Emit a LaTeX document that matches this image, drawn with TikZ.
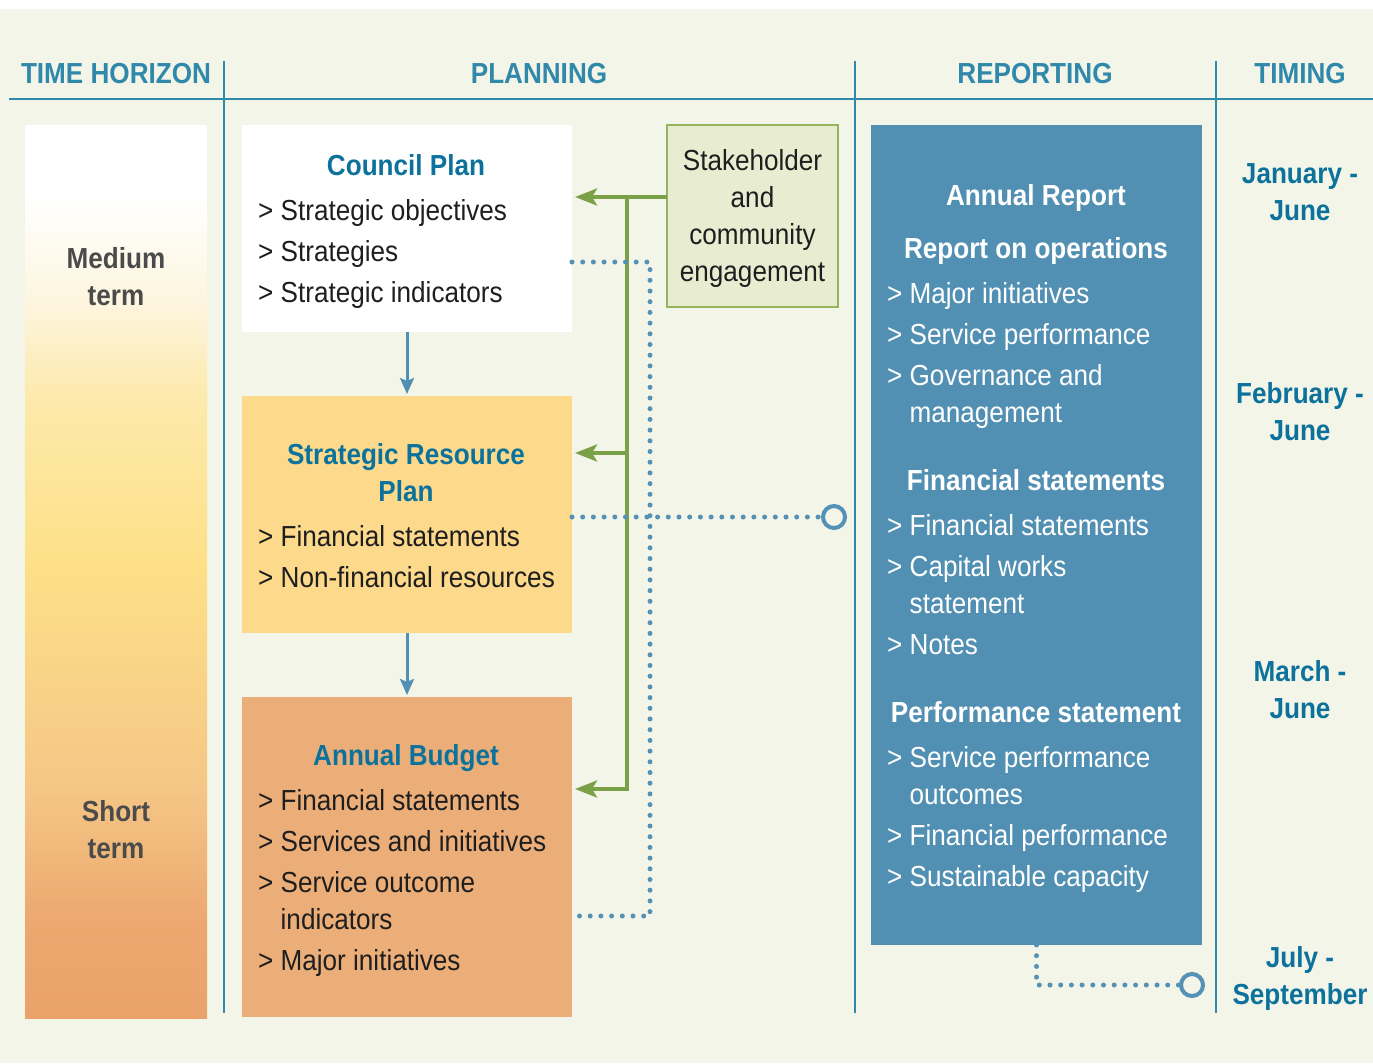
\documentclass[tikz,border=0pt]{standalone}
\usepackage{fontspec}
\setmainfont[FakeStretch=0.9]{Liberation Sans}
\usetikzlibrary{arrows.meta}

\definecolor{bgcream}{RGB}{243,245,232}
\definecolor{headblue}{RGB}{48,136,170}
\definecolor{titleblue}{RGB}{12,114,156}
\definecolor{reportblue}{RGB}{82,144,179}
\definecolor{dotblue}{RGB}{84,145,183}
\definecolor{srpyellow}{RGB}{253,217,139}
\definecolor{budgetorange}{RGB}{236,174,120}
\definecolor{stakegreen}{RGB}{232,237,210}
\definecolor{stakeedge}{RGB}{150,180,95}
\definecolor{arrowgreen}{RGB}{122,160,72}
\definecolor{termgray}{RGB}{75,75,75}
\definecolor{itemblack}{RGB}{30,30,30}
\definecolor{hzA}{RGB}{233,163,106}
\definecolor{hzB}{RGB}{236,168,112}
\definecolor{hzC}{RGB}{245,199,134}
\definecolor{hzD}{RGB}{253,224,136}
\definecolor{hzE}{RGB}{253,233,170}
\definecolor{hzF}{RGB}{253,245,222}

% time horizon bar, orange at the bottom to white at the top
\pgfdeclareverticalshading{horizon}{100bp}{color(0bp)=(hzA); color(25bp)=(hzA);
  color(30.5bp)=(hzB); color(38bp)=(hzC); color(50.5bp)=(hzD); color(59.5bp)=(hzE);
  color(65bp)=(hzF); color(71bp)=(white); color(100bp)=(white)}

\begin{document}
\begin{tikzpicture}[x=1pt, y=-1pt,
    txt/.style={inner sep=0pt, anchor=north, font=\fontsize{29}{37}\selectfont},
    head/.style={txt, text=headblue, font=\fontsize{29}{37}\selectfont\bfseries},
    title/.style={txt, align=center, text=titleblue, font=\fontsize{29}{37}\selectfont\bfseries},
    item/.style={txt, anchor=north west, align=left, text=itemblack},
    term/.style={txt, align=center, text=termgray, font=\fontsize{29}{37}\selectfont\bfseries},
    box/.style={rectangle, anchor=north west, inner sep=0pt, outer sep=0pt},
    gline/.style={draw=arrowgreen, line width=4pt},
    garrow/.style={gline, -{Stealth[length=22pt,width=17pt,inset=5pt]}, shorten >=3pt},
    barrow/.style={draw=reportblue, line width=3pt, -{Stealth[length=16pt,width=14pt,inset=3pt]}, shorten >=2pt},
    dots/.style={draw=dotblue, line width=5pt, line cap=round, dash pattern=on 0pt off 10.7pt},
    ring/.style={circle, draw=dotblue, line width=4pt, minimum size=22pt, inner sep=0pt}]
    \useasboundingbox (0,0) rectangle (1373,1063);
    \fill[white] (0,0) rectangle (1373,9);
    \fill[bgcream] (0,9) rectangle (1373,1063);

    % column rules
    \draw[headblue, line width=2pt] (9,99) -- (1373,99);
    \foreach \x in {224,855,1216}
        \draw[headblue, line width=2pt] (\x,61) -- (\x,1013);

    % column headings
    \node[head] (hhorizon) at (116,57) {\strut TIME HORIZON};
    \node[head] (hplanning) at (539,57) {\strut PLANNING};
    \node[head] (hreporting) at (1035,57) {\strut REPORTING};
    \node[head] (htiming) at (1300,57) {\strut TIMING};

    % time horizon
    \node[box, shading=horizon, minimum width=182pt, minimum height=893pt] (hzbar) at (25,125) {};
    \node[term] (medium) at (116,242) {\strut Medium\\term};
    \node[term] (short) at (116,795) {\strut Short\\term};

    % planning boxes
    \node[box, fill=white, minimum width=330pt, minimum height=207pt] (cp) at (242,125) {};
    \node[box, fill=srpyellow, minimum width=330pt, minimum height=237pt] (srp) at (242,396) {};
    \node[box, fill=budgetorange, minimum width=330pt, minimum height=320pt] (ab) at (242,697) {};
    \node[box, fill=stakegreen, draw=stakeedge, line width=1.2pt, minimum width=171pt, minimum height=182pt,
        align=center, text=itemblack, font=\fontsize{29}{37}\selectfont] (stake) at (667,125)
        {\rule{0pt}{27pt}Stakeholder\\and\\community\\engagement};

    \node[title] (cptitle) at (406,149) {\strut Council Plan};
    \node[item] (cpitems) at (258,194) {\strut> Strategic objectives\\[4pt] > Strategies\\[4pt] > Strategic indicators};
    \node[title] (srptitle) at (406,438) {\strut Strategic Resource\\Plan};
    \node[item] (srpitems) at (258,520) {\strut> Financial statements\\[4pt] > Non-financial resources};
    \node[title] (abtitle) at (406,739) {\strut Annual Budget};
    \node[item] (abitems) at (258,784) {\strut> Financial statements\\[4pt] > Services and initiatives\\[4pt]
        > Service outcome\\ \phantom{> }indicators\\[4pt] > Major initiatives};

    % annual report
    \node[box, fill=reportblue, minimum width=331pt, minimum height=820pt] (ar) at (871,125) {};
    \node[title, text=white] (artitle) at (1036,179) {\strut Annual Report};
    \node[title, text=white] (arops) at (1036,232) {\strut Report on operations};
    \node[item, text=white] (aropsitems) at (887,277) {\strut> Major initiatives\\[4pt] > Service performance\\[4pt]
        > Governance and\\ \phantom{> }management};
    \node[title, text=white] (arfin) at (1036,464) {\strut Financial statements};
    \node[item, text=white] (arfinitems) at (887,509) {\strut> Financial statements\\[4pt] > Capital works\\
        \phantom{> }statement\\[4pt] > Notes};
    \node[title, text=white] (arperf) at (1036,696) {\strut Performance statement};
    \node[item, text=white] (arperfitems) at (887,741) {\strut> Service performance\\ \phantom{> }outcomes\\[4pt]
        > Financial performance\\[4pt] > Sustainable capacity};

    % timing
    \node[title] (jan) at (1300,157) {\strut January -\\June};
    \node[title] (feb) at (1300,377) {\strut February -\\June};
    \node[title] (mar) at (1300,655) {\strut March -\\June};
    \node[title] (jul) at (1300,941) {\strut July -\\September};

    % planning flow
    \draw[barrow] (cp.south) -- (srp.north);
    \draw[barrow] (srp.south) -- (ab.north);

    % engagement feeds all three plans
    \coordinate (gtop) at (627,197);
    \coordinate (gmid) at (627,453);
    \coordinate (gbot) at (627,789);
    \draw[garrow] (stake.west |- gtop) -- (cp.east |- gtop);
    \draw[garrow] (gtop) -- (gbot) -- (ab.east |- gbot);
    \draw[garrow] (gmid) -- (srp.east |- gmid);

    % links to reporting
    \node[ring] (ring1) at (834,517) {};
    \node[ring] (ring2) at (1192,985) {};
    \coordinate (dtop) at (650,262);
    \coordinate (dbot) at (650,916);
    \draw[dots] (cp.east |- dtop) -- (dtop) -- (dbot) -- (ab.east |- dbot);
    \draw[dots] (srp.east |- ring1) -- (ring1.west);
    \draw[dots] (ar.south) -- (ar.south |- ring2) -- (ring2.west);
\end{tikzpicture}
\end{document}
